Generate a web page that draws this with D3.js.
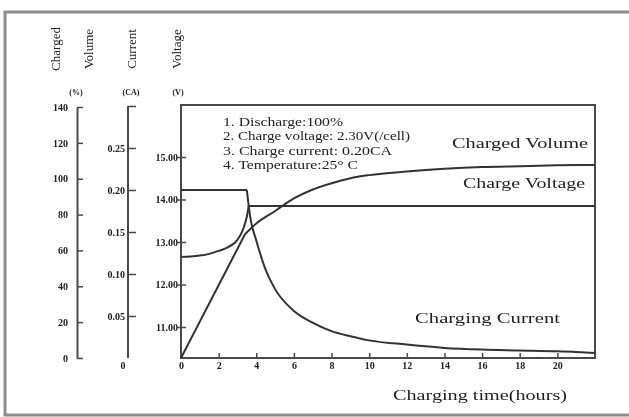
<!DOCTYPE html>
<html>
<head>
<meta charset="utf-8">
<script src="https://cdn.jsdelivr.net/npm/d3@7"></script>
<style>
  html, body { margin: 0; padding: 0; background: #fff; }
  svg { display: block; font-family: "Liberation Serif", "Times New Roman", serif; }
</style>
</head>
<body>
<svg id="chart" width="629" height="417"></svg>
<script>
// ---------- data ----------
const hourTicks = [0, 2, 4, 6, 8, 10, 12, 14, 16, 18, 20];
const chargedTicks = [0, 20, 40, 60, 80, 100, 120, 140];
const currentTicks = [0.05, 0.10, 0.15, 0.20, 0.25, 0.30];
const currentTickLabels = ["0.05", "0.10", "0.15", "0.20", "0.25", ""];
const voltageTicks = [11, 12, 13, 14, 15];
const voltageTickLabels = ["11.00", "12.00", "13.00", "14.00", "15.00"];

// Charged volume (%)
const chargedT = [0, 3.4, 4, 5, 6, 7, 8, 9, 10, 12, 14, 16, 18, 20, 22];
const chargedV = [0, 69, 75, 82, 89, 94, 97.5, 100.3, 102, 104, 105.5, 106.5, 107, 107.5, 107.7];

// Charging current (CA)
const currentT = [0, 3.5, 3.55, 3.7, 4.0, 4.5, 5, 6, 7, 8, 9, 10, 12, 14, 16, 18, 20, 22];
const currentV = [0.2, 0.2, 0.19, 0.165, 0.14, 0.105, 0.082, 0.056, 0.042, 0.032, 0.026, 0.021, 0.016, 0.012, 0.010, 0.009, 0.008, 0.006];

// Charge voltage (V)
const voltageT = [0, 0.5, 1, 1.5, 2, 2.5, 3, 3.3, 3.5, 3.6, 22];
const voltageV = [12.65, 12.66, 12.68, 12.72, 12.79, 12.88, 13.05, 13.3, 13.6, 13.85, 13.85];

const notes = [
  "1. Discharge:100%",
  "2. Charge voltage: 2.30V(/cell)",
  "3. Charge current: 0.20CA",
  "4. Temperature:25° C"
];
const noteWidths = [120, 187, 169, 135];

// ---------- layout ----------
const svg = d3.select("#chart");
const ink = "#333";
const axisInk = "#4a4a4a";
const serif = "Liberation Serif, serif";

const defs = svg.append("defs");
defs.append("filter").attr("id", "soft").attr("x", "-5%").attr("y", "-5%").attr("width", "110%").attr("height", "110%")
  .append("feGaussianBlur").attr("stdDeviation", 0.45);

// outer frame
svg.append("rect").attr("x", 5).attr("y", 12).attr("width", 640).attr("height", 403)
  .attr("fill", "none").attr("stroke", "#8c8c8c").attr("stroke-width", 3);

const pLeft = 181, pRight = 595, pTop = 105, pBottom = 358;

const x = d3.scaleLinear().domain([0, 22]).range([pLeft, pRight]);
const yCharged = d3.scaleLinear().domain([0, 140]).range([pBottom, 107]);
const yCurrent = d3.scaleLinear().domain([0, 0.30]).range([pBottom, 106]);
const yVolt = d3.scaleLinear().domain([11, 15]).range([327, 157]);

const g = svg.append("g").attr("filter", "url(#soft)");

// plot frame
g.append("rect").attr("x", pLeft).attr("y", pTop).attr("width", pRight - pLeft).attr("height", pBottom - pTop)
  .attr("fill", "none").attr("stroke", axisInk).attr("stroke-width", 2);

function styleAxis(sel) {
  sel.attr("font-family", serif);
  sel.selectAll(".domain").attr("stroke", axisInk).attr("stroke-width", 2);
  sel.selectAll(".tick line").attr("stroke", axisInk).attr("stroke-width", 1.5);
  sel.selectAll(".tick text").attr("fill", "#222").attr("font-size", 10).attr("font-weight", "bold")
    .attr("font-family", serif);
}

// charged volume axis
const axCV = g.append("g").attr("transform", "translate(77,0)")
  .call(d3.axisLeft(yCharged).tickValues(chargedTicks).tickFormat(d3.format("d"))
    .tickSizeInner(-6).tickSizeOuter(0).tickPadding(9));
styleAxis(axCV);

// current axis
const axCur = g.append("g").attr("transform", "translate(128,0)")
  .call(d3.axisLeft(yCurrent).tickValues(currentTicks)
    .tickFormat((d, i) => currentTickLabels[i])
    .tickSizeInner(-8).tickSizeOuter(0).tickPadding(3));
styleAxis(axCur);
axCur.select(".domain").attr("d", `M0,${yCurrent(0)}V${yCurrent(0.30)}`);
axCur.append("text").attr("x", -5).attr("y", yCurrent(0) + 11).attr("text-anchor", "middle")
  .attr("fill", "#222").attr("font-size", 10).attr("font-weight", "bold")
  .attr("font-family", serif).text("0");

// voltage axis (on plot left edge)
const axV = g.append("g").attr("transform", `translate(${pLeft},0)`)
  .call(d3.axisLeft(yVolt).tickValues(voltageTicks)
    .tickFormat((d, i) => voltageTickLabels[i])
    .tickSize(0).tickPadding(3));
styleAxis(axV);
axV.select(".domain").remove();
axV.selectAll(".tick").append("line").attr("x1", -4).attr("x2", 5)
  .attr("stroke", axisInk).attr("stroke-width", 1.5);

// x axis
const axX = g.append("g").attr("transform", `translate(0,${pBottom})`)
  .call(d3.axisBottom(x).tickValues(hourTicks).tickFormat(d3.format("d"))
    .tickSizeInner(-5).tickSizeOuter(0).tickPadding(4));
styleAxis(axX);
axX.select(".domain").remove();

// axis titles (rotated)
const titles = [
  { t: "Charged", x: 55 }, { t: "Volume", x: 88 },
  { t: "Current", x: 131 }, { t: "Voltage", x: 176 }
];
g.selectAll(".atitle").data(titles).join("text")
  .attr("class", "atitle")
  .attr("transform", d => `translate(${d.x},49) rotate(-90)`)
  .attr("text-anchor", "middle").attr("dominant-baseline", "central")
  .attr("font-size", 13).attr("fill", "#222").text(d => d.t);

const units = [{ t: "(%)", x: 76 }, { t: "(CA)", x: 131 }, { t: "(V)", x: 178 }];
g.selectAll(".unit").data(units).join("text")
  .attr("class", "unit").attr("x", d => d.x).attr("y", 95)
  .attr("text-anchor", "middle").attr("font-size", 8).attr("font-weight", "bold")
  .attr("fill", "#222").text(d => d.t);

// ---------- curves ----------
function drawSeries(ts, vs, yScale, linearUntil) {
  const pts = ts.map((t, i) => [x(t), yScale(vs[i])]);
  const lin = d3.line().curve(d3.curveLinear);
  const mono = d3.line().curve(d3.curveMonotoneX);
  const a = pts.slice(0, linearUntil + 1);
  const b = pts.slice(linearUntil);
  g.append("path").attr("d", lin(a)).attr("fill", "none").attr("stroke", ink).attr("stroke-width", 2);
  g.append("path").attr("d", mono(b)).attr("fill", "none").attr("stroke", ink).attr("stroke-width", 2);
}
drawSeries(chargedT, chargedV, yCharged, 1);
drawSeries(currentT, currentV, yCurrent, 1);
(function () {
  const pts = voltageT.map((t, i) => [x(t), yVolt(voltageV[i])]);
  const k = voltageT.indexOf(3.6);
  g.append("path").attr("d", d3.line().curve(d3.curveMonotoneX)(pts.slice(0, k + 1)))
    .attr("fill", "none").attr("stroke", ink).attr("stroke-width", 2);
  g.append("path").attr("d", d3.line()(pts.slice(k)))
    .attr("fill", "none").attr("stroke", ink).attr("stroke-width", 2);
})();

// ---------- notes ----------
g.selectAll(".note").data(notes).join("text")
  .attr("class", "note").attr("x", 223).attr("y", (d, i) => 126 + i * 14.4)
  .attr("font-size", 12).attr("fill", "#222")
  .attr("textLength", (d, i) => noteWidths[i]).attr("lengthAdjust", "spacingAndGlyphs")
  .text(d => d);

// series labels
const labels = [
  { t: "Charged Volume", x: 452, y: 148, w: 136 },
  { t: "Charge Voltage", x: 463, y: 188, w: 122 },
  { t: "Charging Current", x: 415, y: 323, w: 145 },
  { t: "Charging time(hours)", x: 393, y: 400, w: 174 }
];
g.selectAll(".slabel").data(labels).join("text")
  .attr("class", "slabel").attr("x", d => d.x).attr("y", d => d.y)
  .attr("font-size", 14).attr("fill", "#222")
  .attr("textLength", d => d.w).attr("lengthAdjust", "spacingAndGlyphs")
  .text(d => d.t);
</script>
</body>
</html>
